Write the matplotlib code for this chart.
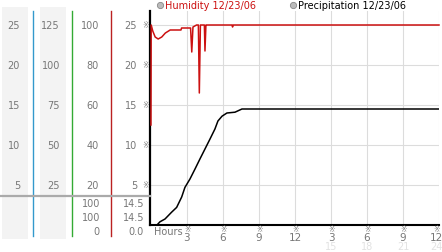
import matplotlib
matplotlib.use("Agg")
import matplotlib.pyplot as plt
from matplotlib.lines import Line2D
from matplotlib.patches import Rectangle
import matplotlib.transforms as mtransforms

W, H = 442, 253

# ---- data ----
hum_hours = [0, 0.02, 0.15, 0.35, 0.6, 0.9, 1.2, 1.6, 2.5, 2.55, 2.65, 3.3, 3.4, 3.5,
             3.8, 3.95, 4.03, 4.12, 4.3, 4.45, 4.5, 4.58, 4.65, 6.75, 6.8, 6.85, 24]
humidity = [50, 100, 97, 94, 93, 94, 96, 97.5, 97.5, 98.5, 98.5, 98.5, 86.5, 99,
            100, 100, 66, 100, 100, 100, 87, 100, 100, 100, 99, 100, 100]

pr_hours = [0, 0.5, 0.75, 1.17, 1.72, 2.14, 2.56, 2.83, 3.25, 3.67, 4.08, 4.5, 4.92,
            5.33, 5.58, 5.92, 6.33, 7.0, 7.58, 24]
precip = [0, 0, 0.4, 0.75, 1.6, 2.2, 3.5, 4.7, 5.75, 7.0, 8.25, 9.5, 10.75,
          12.0, 13.0, 13.6, 14.0, 14.1, 14.5, 14.5]

y_ticks = [5, 10, 15, 20, 25]
col1_labels = ["5", "10", "15", "20", "25"]
col2_labels = ["25", "50", "75", "100", "125"]
col3_labels = ["20", "40", "60", "80", "100"]
col4_labels = ["5", "10", "15", "20", "25"]
x_ticks = [3, 6, 9, 12, 15, 18, 21, 24]
x_labels = ["3", "6", "9", "12", "3", "6", "9", "12"]
x_labels2 = ["15", "18", "21", "24"]
readout_col3 = ["100", "100", "0"]
readout_col4 = ["14.5", "14.5", "0.0"]
legend_labels = ["Humidity 12/23/06", "Precipitation 12/23/06"]

# ---- figure ----
fig = plt.figure(figsize=(W / 100, H / 100), dpi=100)
fig.patch.set_facecolor("white")

def fx(x):
    return x / W

def fy(y):
    return 1 - y / H

FS = 7
GRAY = "#777777"
MARK = "#777777"

# gray background strips
for x0, x1 in [(2, 28), (40, 66)]:
    fig.add_artist(Rectangle((fx(x0), fy(240)), fx(x1) - fx(x0), fy(8) - fy(240),
                             transform=fig.transFigure, facecolor="#f3f3f3",
                             edgecolor="none", zorder=0))

# main axes
ax = fig.add_axes([fx(150), fy(226), fx(439) - fx(150), fy(12) - fy(226)])
ax.set_xlim(-0.08, 24)
ax.set_ylim(0, 26.75)
ax.set_facecolor("none")
for s in ["top", "right"]:
    ax.spines[s].set_visible(False)
ax.spines["left"].set_color("black")
ax.spines["left"].set_linewidth(1.6)
ax.spines["bottom"].set_color("black")
ax.spines["bottom"].set_linewidth(1.5)
ax.set_yticks(y_ticks)
ax.set_yticklabels([])
ax.tick_params(axis="y", length=0)
ax.set_xticks(x_ticks)
ax.set_xticklabels([])
ax.tick_params(axis="x", length=0)
ax.grid(True, color="#dcdcdc", linewidth=0.8)
ax.set_axisbelow(True)

ax2 = ax.twinx()
ax2.set_ylim(0, 26.75 * 4)
ax2.axis("off")

ax.plot(pr_hours, precip, color="black", linewidth=1.1, zorder=3)
ax2.plot(hum_hours, humidity, color="#cc1111", linewidth=1.1, zorder=3, clip_on=False)

# x tick labels and decorations
xb = mtransforms.blended_transform_factory(ax.transData, fig.transFigure)
shift = mtransforms.ScaledTranslation(-3 / 100, 0, fig.dpi_scale_trans)
for i, (t, lab) in enumerate(zip(x_ticks, x_labels)):
    tr = xb + shift if i == len(x_ticks) - 1 else xb
    ax.text(t, fy(230), "※", transform=tr, ha="center", va="center", fontsize=5.5,
            color=MARK, clip_on=False)
    ax.text(t, fy(238), lab, transform=tr, ha="center", va="center", fontsize=FS + 0.5,
            color=GRAY, clip_on=False)
for i, (t, lab) in enumerate(zip(x_ticks[4:], x_labels2)):
    tr = xb + shift if i == len(x_labels2) - 1 else xb
    ax.text(t, fy(247), lab, transform=tr, ha="center", va="center", fontsize=FS,
            color="#e2e2e2", clip_on=False)
fig.text(fx(154), fy(232), "Hours", ha="left", va="center", fontsize=FS, color=GRAY)

# left panel labels
bt = mtransforms.blended_transform_factory(fig.transFigure, ax.transData)
for v, a, b, c, d in zip(y_ticks, col1_labels, col2_labels, col3_labels, col4_labels):
    fig.text(fx(20), v, a, transform=bt, ha="right", va="center", fontsize=FS, color=GRAY)
    fig.text(fx(60), v, b, transform=bt, ha="right", va="center", fontsize=FS, color=GRAY)
    fig.text(fx(99), v, c, transform=bt, ha="right", va="center", fontsize=FS, color=GRAY)
    fig.text(fx(137), v, d, transform=bt, ha="right", va="center", fontsize=FS, color=GRAY)
    fig.text(fx(145.5), v, "※", transform=bt, ha="center", va="center", fontsize=5.5,
             color=MARK)

# vertical coloured lines
for xp, col in [(33, "#3399cc"), (72, "#33aa33"), (111, "#bb2222")]:
    fig.add_artist(Line2D([fx(xp), fx(xp)], [fy(12), fy(237)], transform=fig.transFigure,
                          color=col, linewidth=1.0))

# separator
fig.add_artist(Line2D([fx(0), fx(150)], [fy(197), fy(197)], transform=fig.transFigure,
                      color="#aaaaaa", linewidth=1.6))

# readouts
for yp, a, b in zip([204, 218, 232], readout_col3, readout_col4):
    fig.text(fx(100), fy(yp), a, ha="right", va="center", fontsize=FS, color=GRAY)
    fig.text(fx(144), fy(yp), b, ha="right", va="center", fontsize=FS, color=GRAY)

# legend
for xp, lab, col in [(160, legend_labels[0], "#cc1111"), (293, legend_labels[1], "black")]:
    fig.add_artist(Line2D([fx(xp)], [fy(6)], transform=fig.transFigure, marker="o",
                          markersize=4.5, markerfacecolor="#bbbbbb",
                          markeredgecolor="#888888", markeredgewidth=0.6, linestyle="none"))
    fig.text(fx(xp + 5), fy(6), lab, ha="left", va="center", fontsize=FS, color=col)

fig.savefig("out.png", dpi=100)
